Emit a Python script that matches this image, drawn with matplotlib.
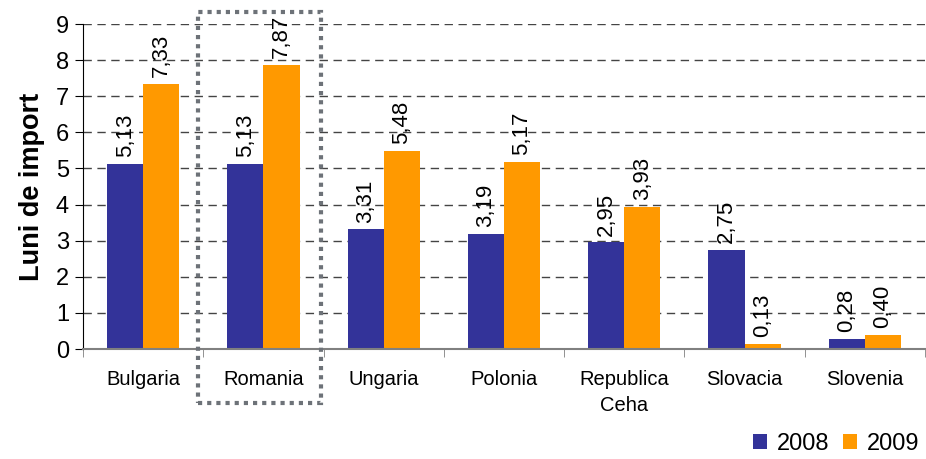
import matplotlib
matplotlib.use("Agg")
import matplotlib.pyplot as plt
from matplotlib.patches import Rectangle
import numpy as np

plt.rcParams['font.family'] = ['Liberation Sans', 'DejaVu Sans']

categories = ["Bulgaria", "Romania", "Ungaria", "Polonia", "Republica\nCeha", "Slovacia", "Slovenia"]
v2008 = [5.13, 5.13, 3.31, 3.19, 2.95, 2.75, 0.28]
v2009 = [7.33, 7.87, 5.48, 5.17, 3.93, 0.13, 0.40]
series_names = ["2008", "2009"]
colors = ["#333399", "#FF9900"]

fig = plt.figure(figsize=(9.26, 4.59), dpi=100)
ax = fig.add_axes([83/926, 1-349/459, 842/926, 325/459])

x = np.arange(len(categories))
w = 0.3
b1 = ax.bar(x - w/2, v2008, w, color=colors[0], label=series_names[0], zorder=3)
b2 = ax.bar(x + w/2, v2009, w, color=colors[1], label=series_names[1], zorder=3)

def fmt(v):
    return f"{v:.2f}".replace(".", ",")

for bars, vals in ((b1, v2008), (b2, v2009)):
    for r, v in zip(bars, vals):
        ax.annotate(fmt(v), (r.get_x() + r.get_width()/2, v), xytext=(0, 5),
                    textcoords="offset points", rotation=90, ha="center", va="bottom",
                    fontsize=16, color="black", zorder=4)

ax.set_xlim(-0.5, len(categories) - 0.5)
ax.set_ylim(0, 9)
ax.set_yticks(range(0, 10))
ax.tick_params(axis='y', labelsize=17, length=6, direction='out', pad=4)
ax.set_xticks(x)
ax.set_xticklabels(categories, fontsize=14.5, linespacing=1.5)
ax.tick_params(axis='x', which='major', length=0, pad=15)
ax.set_xticks(np.arange(-0.5, len(categories)), minor=True)
ax.tick_params(axis='x', which='minor', length=6, color="#808080", direction='out')

ax.yaxis.grid(True, linestyle=(0, (6, 4)), color="#444444", linewidth=1, zorder=0)
ax.set_axisbelow(True)
for s in ["top", "right"]:
    ax.spines[s].set_visible(False)
ax.spines["left"].set_color("black")
ax.spines["bottom"].set_color("#808080")
ax.spines["bottom"].set_linewidth(1.5)
ax.spines["bottom"].set_zorder(5)

ax.set_ylabel("Luni de import", fontsize=19.5, fontweight="bold", labelpad=8)

# highlight box around Romania
rect = Rectangle((0.456, -1.5), 1.478 - 0.456, 9.33 + 1.5, fill=False,
                 edgecolor="#6d7278", linewidth=3, linestyle=(0, (1, 1.2)),
                 clip_on=False, zorder=6)
rect.set_capstyle("butt")
ax.add_patch(rect)

fig.legend(handles=[b1, b2], labels=series_names, loc="lower right",
           bbox_to_anchor=(1.008, -0.022), ncol=2, frameon=False, fontsize=17,
           handlelength=0.6, handleheight=0.6, handletextpad=0.4, columnspacing=0.6,
           borderaxespad=0.2)

fig.savefig("out.png", dpi=100)
